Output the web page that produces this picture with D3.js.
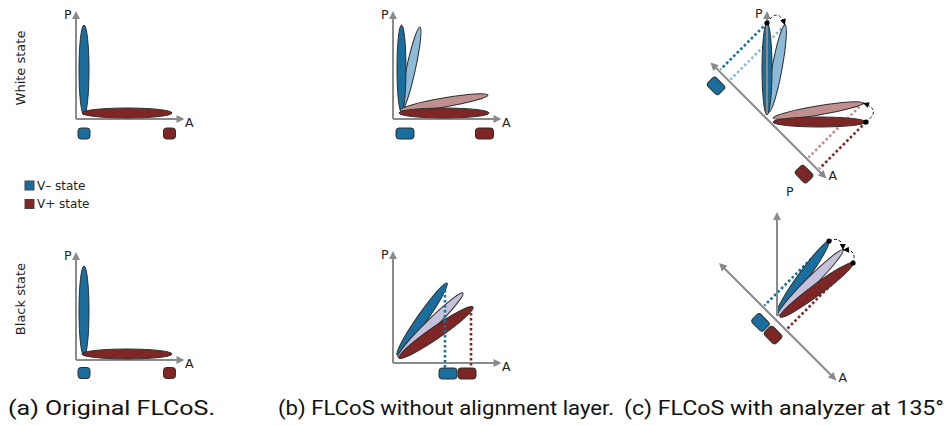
<!DOCTYPE html>
<html><head><meta charset="utf-8">
<script src="https://cdn.jsdelivr.net/npm/d3@7"></script>
<style>body{margin:0;background:#fff} svg{display:block}</style>
</head><body>
<svg id="fig" width="946" height="425"></svg>
<script>
// ---------------- data ----------------
const captions = ["(a) Original FLCoS.", "(b) FLCoS without alignment layer.", "(c) FLCoS with analyzer at 135°"];
const rowLabels = ["White state", "Black state"];
const legendItems = [{tone:"minus", label:"V– state"}, {tone:"plus", label:"V+ state"}];
const axisNames = ["P", "A"];

// ellipse endpoints in axis units [x0, y0, x1, y1], minor axis w in axis units
const origEllipses = [
  {tone:"minus", p:[0.08, 0.04, 0.08, 0.94], w:0.10},
  {tone:"plus",  p:[0.06, 0.06, 0.96, 0.06], w:0.10}
];
const origSquares = [{tone:"minus", a:0.08}, {tone:"plus", a:0.935}];

const noAlignWhiteEllipses = [
  {tone:"minusLight", p:[0.09, 0.09, 0.27, 0.92], w:0.09},
  {tone:"minus",      p:[0.085, 0.07, 0.085, 0.94], w:0.09},
  {tone:"plusLight",  p:[0.07, 0.09, 0.95, 0.24], w:0.09},
  {tone:"plus",       p:[0.06, 0.06, 0.96, 0.06], w:0.10}
];
const noAlignWhiteSquares = [{tone:"minus", a:0.12}, {tone:"plus", a:0.915}];

const noAlignBlackEllipses = [
  {tone:"minus", p:[0.04, 0.08, 0.54, 0.80], w:0.10},
  {tone:"mid",   p:[0.05, 0.06, 0.70, 0.70], w:0.10},
  {tone:"plus",  p:[0.06, 0.05, 0.80, 0.56], w:0.12}
];
const noAlignBlackProj = [{tone:"minus", a:0.52, from:0.78}, {tone:"plus", a:0.78, from:0.55}];
const noAlignBlackSquares = [{tone:"minus", a:0.55}, {tone:"plus", a:0.74}];

const analyzerWhiteEllipses = [
  {tone:"minusLight", p:[0.02, 0.07, 0.18, 0.94], w:0.10},
  {tone:"minus",      p:[0.00, 0.04, 0.00, 0.96], w:0.10},
  {tone:"plusLight",  p:[0.06, 0.01, 0.96, 0.16], w:0.09},
  {tone:"plus",       p:[0.06, -0.03, 0.99, -0.03], w:0.10}
];
const analyzerWhiteTurns = [[1, 0], [3, 2]];      // from ellipse tip -> to ellipse tip
const analyzerWhiteProj = [1, 0, 3, 2];
const analyzerWhiteSquares = [{tone:"minus", t:-0.594}, {tone:"plus", t:0.651}];

const analyzerBlackEllipses = [
  {tone:"minus", p:[0.00, 0.08, 0.52, 0.80], w:0.10},
  {tone:"mid",   p:[0.01, 0.06, 0.66, 0.71], w:0.10},
  {tone:"plus",  p:[0.03, 0.04, 0.76, 0.58], w:0.11}
];
const analyzerBlackTurns = [[0, 1], [2, 1]];
const analyzerBlackProj = [0, 2];
const analyzerBlackSquares = [{tone:"minus", t:-0.106}, {tone:"plus", t:0.071}];

// ---------------- style ----------------
const COL = {minus:"#1a6e9e", minusLight:"#8dbad6", plus:"#7e2626", plusLight:"#c09091", mid:"#c6c1db"};
const AX = "#8a8a8a", OUT = "#2e2e2e";
const svg = d3.select("#fig");

function makeScales(ox, oy) {
  return {
    x: d3.scaleLinear().domain([0, 1]).range([ox, ox + 100]),
    y: d3.scaleLinear().domain([0, 1]).range([oy, oy - 100])
  };
}
function head(g, x, y, ang, len, hw, fill) {
  const c = Math.cos(ang), s = Math.sin(ang);
  const bx = x - len * c, by = y - len * s;
  g.append("path")
    .attr("d", `M${x},${y}L${bx - hw * s},${by + hw * c}L${bx + hw * s},${by - hw * c}Z`)
    .attr("fill", fill);
}
function arrowLine(g, x1, y1, x2, y2, both) {
  const ang = Math.atan2(y2 - y1, x2 - x1), L = 7;
  const sx = both ? x1 + L * Math.cos(ang) : x1, sy = both ? y1 + L * Math.sin(ang) : y1;
  g.append("line").attr("x1", sx).attr("y1", sy)
    .attr("x2", x2 - L * Math.cos(ang)).attr("y2", y2 - L * Math.sin(ang))
    .attr("stroke", AX).attr("stroke-width", 2);
  head(g, x2, y2, ang, 8, 4, AX);
  if (both) head(g, x1, y1, ang + Math.PI, 8, 4, AX);
}
function ellipse(g, S, e) {
  const x0 = S.x(e.p[0]), y0 = S.y(e.p[1]), x1 = S.x(e.p[2]), y1 = S.y(e.p[3]);
  const cx = (x0 + x1) / 2, cy = (y0 + y1) / 2, len = Math.hypot(x1 - x0, y1 - y0);
  const ang = Math.atan2(y1 - y0, x1 - x0) * 180 / Math.PI;
  g.append("ellipse").attr("cx", cx).attr("cy", cy)
    .attr("rx", len / 2).attr("ry", (S.x(e.w) - S.x(0)) / 2)
    .attr("transform", `rotate(${ang},${cx},${cy})`)
    .attr("fill", COL[e.tone]).attr("stroke", OUT).attr("stroke-width", 1);
}
function tip(S, e) { return [S.x(e.p[2]), S.y(e.p[3])]; }
function label(g, txt, x, y) {
  g.append("text").attr("x", x).attr("y", y).text(txt)
    .attr("font-family", "DejaVu Sans").attr("font-size", 12.5).attr("fill", "#222");
}
function square(g, cx, cy, w, h, tone, rot) {
  g.append("rect").attr("x", cx - w / 2).attr("y", cy - h / 2).attr("width", w).attr("height", h)
    .attr("rx", 3).attr("fill", COL[tone]).attr("stroke", OUT).attr("stroke-width", 1)
    .attr("transform", rot ? `rotate(${rot},${cx},${cy})` : null);
}
function dotted(g, x1, y1, x2, y2, tone) {
  g.append("line").attr("x1", x1).attr("y1", y1).attr("x2", x2).attr("y2", y2)
    .attr("stroke", COL[tone]).attr("stroke-width", 2.6).attr("stroke-dasharray", "2.6,2.4");
}

// ---------- standard P/A panel ----------
function stdPanel(ox, oy, ellipses, squares, sqW, sqOff, pLen) {
  const g = svg.append("g"), S = makeScales(ox, oy);
  arrowLine(g, S.x(0), S.y(0), S.x(0), S.y(pLen));
  arrowLine(g, S.x(0), S.y(0), S.x(1.085), S.y(0));
  label(g, axisNames[0], S.x(-0.12), S.y(pLen) + 8);
  label(g, axisNames[1], S.x(1.09), S.y(0) + 8);
  ellipses.forEach(e => ellipse(g, S, e));
  squares.forEach(q => square(g, S.x(q.a), S.y(sqOff), sqW, 11, q.tone));
  return {g, S};
}
stdPanel(76, 119, origEllipses, origSquares, 12, -0.145, 1.08);
stdPanel(76, 360, origEllipses, origSquares, 12, -0.13, 1.08);
stdPanel(393, 119, noAlignWhiteEllipses, noAlignWhiteSquares, 18, -0.145, 1.08);
const pb = stdPanel(393, 363, noAlignBlackEllipses, [], 18, -0.105, 1.12);
noAlignBlackProj.forEach(d => dotted(pb.g, pb.S.x(d.a), pb.S.y(d.from), pb.S.x(d.a), pb.S.y(-0.05), d.tone));
noAlignBlackSquares.forEach(q => square(pb.g, pb.S.x(q.a), pb.S.y(-0.105), 18, 11, q.tone));

// ---------- analyzer panels ----------
function analyzerPanel(ox, oy, ellipses, turns, projIdx, squares, tRange, pLen, bulges) {
  const g = svg.append("g"), S = makeScales(ox, oy);
  const u = [Math.SQRT1_2, Math.SQRT1_2], n = [-Math.SQRT1_2, Math.SQRT1_2];
  const pt = (t, s) => [ox + 100 * (t * u[0] + s * n[0]), oy + 100 * (t * u[1] + s * n[1])];
  const proj = (P) => {
    const dx = P[0] - ox, dy = P[1] - oy;
    return [(dx * u[0] + dy * u[1]) / 100, (dx * n[0] + dy * n[1]) / 100];
  };
  projIdx.forEach(i => {
    const T = tip(S, ellipses[i]); const [t] = proj(T); const E = pt(t, -0.02);
    dotted(g, T[0], T[1], E[0], E[1], ellipses[i].tone);
  });
  ellipses.forEach(e => ellipse(g, S, e));
  arrowLine(g, S.x(0), S.y(0.05), S.x(0), S.y(pLen));
  const A0 = pt(tRange[0], 0), A1 = pt(tRange[1], 0);
  arrowLine(g, A0[0], A0[1], A1[0], A1[1], true);
  label(g, axisNames[1], A1[0] + 2, A1[1] + 2);
  turns.forEach(([a, b], k) => {
    const P0 = tip(S, ellipses[a]), P1 = tip(S, ellipses[b]);
    const dx = P1[0] - P0[0], dy = P1[1] - P0[1], L = Math.hypot(dx, dy);
    const nx = dy / L, ny = -dx / L, bl = bulges[k];
    const C = [(P0[0] + P1[0]) / 2 + nx * bl, (P0[1] + P1[1]) / 2 + ny * bl];
    g.append("path").attr("d", `M${P0[0]},${P0[1]}Q${C[0]},${C[1]} ${P1[0]},${P1[1]}`)
      .attr("fill", "none").attr("stroke", "#111").attr("stroke-width", 1).attr("stroke-dasharray", "3,2");
    g.append("circle").attr("cx", P0[0]).attr("cy", P0[1]).attr("r", 2.6).attr("fill", "#000");
    head(g, P1[0], P1[1], Math.atan2(P1[1] - C[1], P1[0] - C[0]), 6, 3, "#000");
  });
  squares.forEach(q => { const c = pt(q.t, 0.127); square(g, c[0], c[1], 16, 12, q.tone, 45); });
  return {g, S};
}
const pcw = analyzerPanel(767, 119, analyzerWhiteEllipses, analyzerWhiteTurns, analyzerWhiteProj,
  analyzerWhiteSquares, [-0.80, 0.84], 1.08, [18, -18]);
label(pcw.g, axisNames[0], 755, 18);
label(pcw.g, axisNames[0], 786, 196);
analyzerPanel(777, 321, analyzerBlackEllipses, analyzerBlackTurns, analyzerBlackProj,
  analyzerBlackSquares, [-0.82, 0.84], 1.09, [12, -12]);

// ---------- row labels ----------
[[25, 68], [25, 299]].forEach((p, i) => {
  svg.append("text").attr("transform", `translate(${p[0]},${p[1]}) rotate(-90)`)
    .attr("text-anchor", "middle").attr("font-family", "DejaVu Sans").attr("font-size", 13)
    .attr("fill", "#222").text(rowLabels[i]);
});

// ---------- legend ----------
legendItems.forEach((d, i) => {
  const y = 181 + i * 18.5;
  svg.append("rect").attr("x", 25).attr("y", y).attr("width", 9).attr("height", 9)
    .attr("fill", COL[d.tone]).attr("stroke", "#444").attr("stroke-width", 1);
  svg.append("text").attr("x", 37).attr("y", y + 8.5).text(d.label)
    .attr("font-family", "DejaVu Sans").attr("font-size", 12).attr("fill", "#222");
});

// ---------- captions ----------
const capPos = [[8, 207], [278, 336], [624, 320]];
captions.forEach((c, i) => {
  svg.append("text").attr("x", capPos[i][0]).attr("y", 415).text(c)
    .attr("font-family", "Roboto, 'Open Sans', sans-serif").attr("font-size", 21).attr("fill", "#111")
    .attr("textLength", capPos[i][1]).attr("lengthAdjust", "spacingAndGlyphs");
});
</script>
</body></html>
